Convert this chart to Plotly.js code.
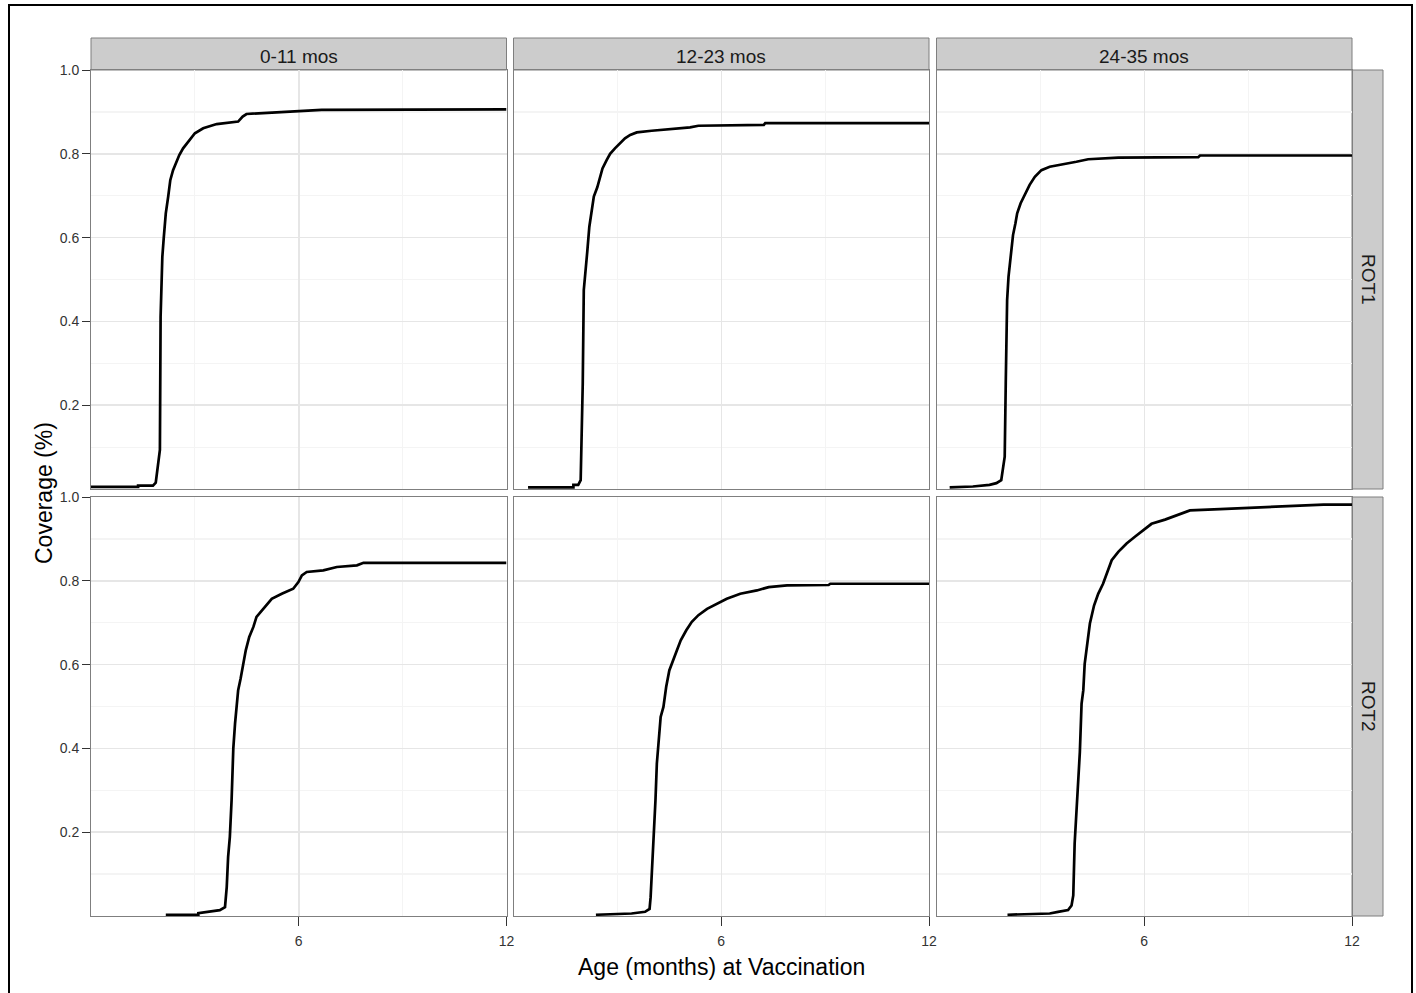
<!DOCTYPE html>
<html>
<head>
<meta charset="utf-8">
<script src="https://cdn.plot.ly/plotly-3.0.1.min.js"></script>
<style>
  html, body { margin: 0; padding: 0; background: #ffffff; }
  #chart { width: 1416px; height: 993px; }
</style>
</head>
<body>
<div id="chart"></div>
<script>
// ---------------- DATA ----------------
const ageGroups = ['0-11 mos', '12-23 mos', '24-35 mos'];
const vaccines = ['ROT1', 'ROT2'];
const xTickVals = [6, 12];
const yTickVals = [0.2, 0.4, 0.6, 0.8, 1.0];
const xMinorVals = [3, 9];
const yMinorVals = [0.1, 0.3, 0.5, 0.7, 0.9];
const xTitle = 'Age (months) at Vaccination';
const yTitle = 'Coverage (%)';

// ROT1, 0-11 mos
const rot1_a_age = [0, 1.36, 1.36, 1.79, 1.87, 1.92, 1.96, 1.99, 2.01, 2.03, 2.06, 2.10, 2.16, 2.23, 2.29, 2.37, 2.45, 2.55, 2.66, 2.81, 3.00, 3.24, 3.63, 4.25, 4.38, 4.49, 4.98, 5.65, 6.66, 12];
const rot1_a_cov = [0.005, 0.005, 0.008, 0.008, 0.015, 0.045, 0.077, 0.093, 0.411, 0.49, 0.554, 0.598, 0.658, 0.698, 0.737, 0.761, 0.779, 0.797, 0.813, 0.829, 0.849, 0.861, 0.871, 0.877, 0.889, 0.895, 0.897, 0.90, 0.905, 0.906];
// ROT1, 12-23 mos
const rot1_b_age = [0.42, 1.73, 1.73, 1.87, 1.94, 1.96, 2.00, 2.03, 2.09, 2.13, 2.19, 2.26, 2.32, 2.42, 2.50, 2.57, 2.69, 2.79, 2.93, 3.08, 3.22, 3.37, 3.56, 3.99, 4.38, 5.10, 5.34, 7.23, 7.27, 12];
const rot1_b_cov = [0.004, 0.004, 0.01, 0.01, 0.021, 0.093, 0.252, 0.475, 0.523, 0.566, 0.626, 0.666, 0.698, 0.72, 0.745, 0.765, 0.785, 0.80, 0.813, 0.825, 0.837, 0.845, 0.851, 0.855, 0.858, 0.863, 0.867, 0.869, 0.873, 0.873];
// ROT1, 24-35 mos
const rot1_c_age = [0.38, 1.05, 1.53, 1.73, 1.87, 1.92, 1.97, 2.00, 2.04, 2.08, 2.14, 2.21, 2.28, 2.33, 2.43, 2.53, 2.69, 2.84, 3.03, 3.27, 3.56, 4.04, 4.38, 5.25, 7.56, 7.61, 12];
const rot1_c_cov = [0.004, 0.006, 0.01, 0.014, 0.021, 0.045, 0.077, 0.252, 0.451, 0.507, 0.555, 0.606, 0.634, 0.658, 0.682, 0.698, 0.726, 0.745, 0.761, 0.769, 0.773, 0.781, 0.787, 0.791, 0.792, 0.796, 0.796];
// ROT2, 0-11 mos
const rot2_a_age = [2.16, 3.10, 3.10, 3.43, 3.72, 3.87, 3.92, 3.96, 4.01, 4.06, 4.11, 4.16, 4.20, 4.25, 4.32, 4.40, 4.47, 4.57, 4.69, 4.78, 5.02, 5.22, 5.51, 5.84, 5.99, 6.09, 6.23, 6.71, 7.10, 7.68, 7.87, 12];
const rot2_a_cov = [0.003, 0.003, 0.007, 0.01, 0.014, 0.021, 0.069, 0.141, 0.189, 0.276, 0.40, 0.459, 0.499, 0.539, 0.566, 0.602, 0.634, 0.666, 0.69, 0.714, 0.737, 0.757, 0.769, 0.781, 0.797, 0.813, 0.821, 0.825, 0.833, 0.837, 0.843, 0.843];
// ROT2, 12-23 mos
const rot2_b_age = [2.38, 3.41, 3.80, 3.93, 3.96, 4.02, 4.06, 4.10, 4.14, 4.19, 4.25, 4.33, 4.41, 4.50, 4.62, 4.72, 4.83, 4.99, 5.15, 5.34, 5.59, 5.87, 6.16, 6.55, 7.03, 7.37, 7.90, 9.10, 9.15, 12];
const rot2_b_cov = [0.003, 0.006, 0.01, 0.017, 0.045, 0.133, 0.212, 0.276, 0.364, 0.411, 0.475, 0.499, 0.547, 0.586, 0.61, 0.634, 0.658, 0.682, 0.702, 0.718, 0.733, 0.745, 0.757, 0.769, 0.777, 0.785, 0.789, 0.790, 0.793, 0.793];
// ROT2, 24-35 mos
const rot2_c_age = [2.05, 3.27, 3.51, 3.80, 3.90, 3.95, 3.99, 4.04, 4.09, 4.14, 4.19, 4.24, 4.28, 4.36, 4.43, 4.55, 4.67, 4.81, 4.91, 5.06, 5.25, 5.49, 5.73, 5.97, 6.21, 6.60, 7.08, 7.32, 8.19, 9.78, 10.17, 11.18, 12];
const rot2_c_cov = [0.003, 0.006, 0.01, 0.014, 0.025, 0.049, 0.173, 0.252, 0.324, 0.391, 0.507, 0.539, 0.602, 0.65, 0.698, 0.741, 0.769, 0.793, 0.817, 0.849, 0.869, 0.889, 0.905, 0.92, 0.936, 0.946, 0.96, 0.968, 0.971, 0.976, 0.979, 0.982, 0.982];

const seriesAge = [rot1_a_age, rot1_b_age, rot1_c_age, rot2_a_age, rot2_b_age, rot2_c_age];
const seriesCov = [rot1_a_cov, rot1_b_cov, rot1_c_cov, rot2_a_cov, rot2_b_cov, rot2_c_cov];

// ---------------- LAYOUT ----------------
const W = 1416, H = 993;
const colL = [91, 513.5, 936.5], colW = 415.5;
const rowT = [70, 497], rowH = 419;
const stripTop = 38, stripRight = 1383;
const px = v => v / W;
const py = v => 1 - v / H;
const FONT = 'Liberation Sans, Arial, Helvetica, sans-serif';

const traces = [];
const layout = {
  width: W, height: H,
  margin: {l: 0, r: 0, t: 0, b: 0},
  paper_bgcolor: '#ffffff', plot_bgcolor: '#ffffff',
  showlegend: false,
  font: {family: FONT, color: '#333333'},
  shapes: [], annotations: []
};

for (let i = 0; i < 6; i++) {
  const r = Math.floor(i / 3), c = i % 3;
  const n = i + 1;
  const xa = 'x' + (n === 1 ? '' : n), ya = 'y' + (n === 1 ? '' : n);
  traces.push({
    x: seriesAge[i], y: seriesCov[i],
    type: 'scatter', mode: 'lines',
    line: {color: '#000000', width: 2.7, shape: 'linear'},
    xaxis: xa, yaxis: ya, hoverinfo: 'x+y'
  });
  layout['xaxis' + (n === 1 ? '' : n)] = {
    domain: [px(colL[c]), px(colL[c] + colW)],
    anchor: ya, range: [0, 12],
    tickmode: 'array', tickvals: xTickVals,
    showticklabels: r === 1, ticks: r === 1 ? 'outside' : '',
    ticklen: 9, tickcolor: '#333333', tickwidth: 1, ticklabelstandoff: 3,
    tickfont: {family: FONT, size: 14, color: '#333333'},
    showgrid: true, gridcolor: '#e6e6e6', gridwidth: 1.5,
    minor: {tickmode: 'array', tickvals: xMinorVals, showgrid: true, gridcolor: '#f4f4f4', gridwidth: 1.2, ticks: ''},
    showline: true, mirror: true, linecolor: '#7f7f7f', linewidth: 1,
    zeroline: false, fixedrange: true
  };
  layout['yaxis' + (n === 1 ? '' : n)] = {
    domain: [py(rowT[r] + rowH), py(rowT[r])],
    anchor: xa, range: [0, 1],
    tickmode: 'array', tickvals: yTickVals, tickformat: '.1f',
    showticklabels: c === 0, ticks: c === 0 ? 'outside' : '',
    ticklen: 8, tickcolor: '#333333', tickwidth: 1,
    tickfont: {family: FONT, size: 14, color: '#333333'},
    showgrid: true, gridcolor: '#e6e6e6', gridwidth: 1.5,
    minor: {tickmode: 'array', tickvals: yMinorVals, showgrid: true, gridcolor: '#f4f4f4', gridwidth: 1.2, ticks: ''},
    showline: true, mirror: true, linecolor: '#7f7f7f', linewidth: 1,
    zeroline: false, fixedrange: true
  };
}

// top strips
ageGroups.forEach((g, c) => {
  layout.shapes.push({
    type: 'rect', xref: 'paper', yref: 'paper', layer: 'below',
    x0: px(colL[c]), x1: px(colL[c] + colW), y0: py(rowT[0]), y1: py(stripTop),
    fillcolor: '#cccccc', line: {color: '#7f7f7f', width: 1}
  });
  layout.annotations.push({
    xref: 'paper', yref: 'paper', showarrow: false,
    x: px(colL[c] + colW / 2), y: py((stripTop + rowT[0]) / 2 + 2),
    xanchor: 'center', yanchor: 'middle',
    text: g, font: {family: FONT, size: 19, color: '#1a1a1a'}
  });
});
// right strips
vaccines.forEach((v, r) => {
  const x0 = colL[2] + colW;
  layout.shapes.push({
    type: 'rect', xref: 'paper', yref: 'paper', layer: 'below',
    x0: px(x0), x1: px(stripRight), y0: py(rowT[r] + rowH), y1: py(rowT[r]),
    fillcolor: '#cccccc', line: {color: '#7f7f7f', width: 1}
  });
  layout.annotations.push({
    xref: 'paper', yref: 'paper', showarrow: false,
    x: px((x0 + stripRight) / 2 + 1), y: py(rowT[r] + rowH / 2),
    xanchor: 'center', yanchor: 'middle', textangle: 90,
    text: v, font: {family: FONT, size: 19, color: '#1a1a1a'}
  });
});
// axis titles
layout.annotations.push({
  xref: 'paper', yref: 'paper', showarrow: false,
  x: px(colL[0] + (colL[2] + colW - colL[0]) / 2), y: py(967),
  xanchor: 'center', yanchor: 'middle',
  text: xTitle, font: {family: FONT, size: 23, color: '#000000'}
});
layout.annotations.push({
  xref: 'paper', yref: 'paper', showarrow: false,
  x: px(44), y: py((rowT[0] + rowT[1] + rowH) / 2),
  xanchor: 'center', yanchor: 'middle', textangle: -90,
  text: yTitle, font: {family: FONT, size: 23, color: '#000000'}
});
// outer frame of the figure
layout.shapes.push({
  type: 'rect', xref: 'paper', yref: 'paper', layer: 'above',
  x0: px(9), x1: px(1412), y0: py(1000), y1: py(5),
  fillcolor: 'rgba(0,0,0,0)', line: {color: '#000000', width: 2}
});

Plotly.newPlot('chart', traces, layout, {displayModeBar: false, staticPlot: true});
</script>
</body>
</html>
